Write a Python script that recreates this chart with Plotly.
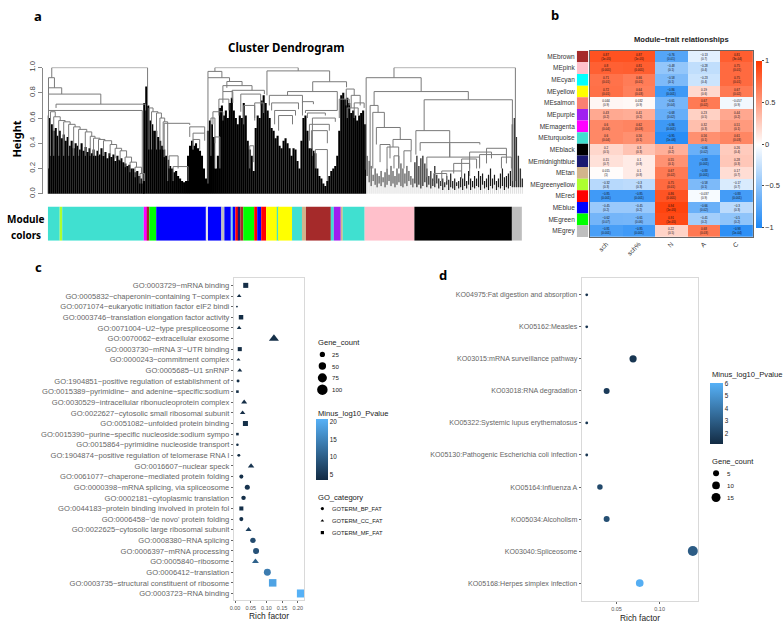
import plotly.graph_objects as go

W, H = 784, 626
fx = lambda x: x / W
fy = lambda y: 1 - y / H
FONT = "Liberation Sans"
GG_SCALE = [[0, "#132B43"], [1, "#56B1F7"]]
MINUS = "\u2212"

# ---------- panel a data ----------
MODULE_COLORS = ["#40E0D0", "#ADFF2F", "#40E0D0", "#FF00FF", "#A52A2A", "#00FF00", "#0000FF", "#E8E8E8", "#0000FF", "#BEBEBE",
                 "#0000FF", "#87CEEB", "#0000FF", "#FF0000", "#191970", "#A52A2A", "#00FF00", "#FF0000", "#0000FF", "#FF0000",
                 "#FFFF00", "#40E0D0", "#FFFF00", "#40E0D0", "#D2B48C", "#A52A2A", "#40E0D0", "#A020F0", "#D2B48C", "#40E0D0",
                 "#FFC0CB", "#000000", "#BEBEBE"]
MODULE_SIZES = [12, 2.5, 82, 3.5, 2, 7, 50.5, 1.5, 13.5, 3, 6.5, 2.5, 2, 3, 2, 3, 11, 3, 4, 5, 11, 1, 14, 10, 4, 25, 3, 7, 2, 22, 50, 98, 10]
MODULE_START = 44

SPIKE_A = [.62, .60, .55, .5, .52, .46, .5, .44, .47, .42, .45, .38, .42, .36, .40, .38, .35, .40, .34, .37, .33, .36, .32, .35, .3,
           .34, .31, .36, .3, .33, .28, .32, .29, .31, .26, .3, .27, .28, .25, .24, .22, .23, .2, .2, .17, .18, .14, .12, .1]
SPIKE_B = [.72, .85, .7, .58, .55, .5, .5, .45, .42, .38, .35, .3, .27, .22, .2, .17, .18, .14, .12, .1, .09, .1, .3, .38, .42, .38,
           .4, .36, .34, .3, .2, .12]
SPIKE_C = [.5, .58, .55, .45, .2, .3, .68, .7, .62, .66, .6, .72, .76, .66, .6, .55, .62, .6, .72, .62, .42, .35, .3, .18, .52, .62,
           .6, .74, .78, .72, .66, .6, .52, .5, .44, .46, .38, .36, .42, .44, .4, .36, .3, .36, .35, .26, .2, .42, .6, .62, .5, .36,
           .36, .34, .32, .2, .14, .12, .08, .06, .1, .14, .18, .2, .22, .3, .5, .78, .8, .75, .76, .72, .64, .66, .62, .58, .62,
           .64, .66, .55]
SPIKE_D = [.3, .26, .22, .15, .2, .16, .14, .18, .13, .17, .2, .15, .22, .18, .14, .2, .16, .24, .2, .16, .22, .18, .14, .12]
FLOOR_D = [.14, .09, .06, .1, .07, .05, .08, .06, .09, .05, .07, .1, .06, .08, .05, .07, .09, .06, .05, .08, .06, .1, .07, .05]
SPIKE_E = [.25, .3, .22, .28, .3, .24, .2, .14, .18, .12, .22, .15, .12, .1, .12, .09, .14, .11, .16, .1, .12, .09, .1, .13, .12, .16,
           .1, .18, .12, .1, .14, .12, .18, .14, .16, .1, .12, .15, .2, .12, .15, .1, .12, .16, .2, .13, .14, .16, .18]
FLOOR_E = [.08, .05, .07, .04, .06, .09, .05, .07, .04, .06, .05, .08, .04, .06, .03, .05, .07, .03, .05, .04, .03, .06, .04, .05, .03,
           .06, .04, .07, .03, .05, .04, .06, .05, .03, .07, .04, .05, .03, .06, .04, .07, .03, .05, .04, .06, .03, .05, .04, .06]
SPIKE_F = [.55, .6, .45, .3, .2, .12]
# start leaf, leaf step, tops, floors, colour, line width
SPIKE_GROUPS = [(44, 2, SPIKE_A, [-.01] * len(SPIKE_A), "#000000", 2.1), (141, 2, SPIKE_B, [-.02] * len(SPIKE_B), "#000000", 2.1),
                (205, 2, SPIKE_C, [-.02] * len(SPIKE_C), "#000000", 2.1), (365, 2, SPIKE_D, FLOOR_D, "#2a2a2a", 1),
                (413, 2, SPIKE_E, FLOOR_E, "#1a1a1a", 1.2), (511, 2, SPIKE_F, [.05] * len(SPIKE_F), "#333333", 1.4)]

STAIR_A_X = [46.7, 50, 55, 60, 65, 70, 75, 81.7, 86.7, 90, 95, 100, 106.7, 111.7, 116.7, 121.7, 126.7, 131.7, 136.7]
STAIR_A_H = [.65, .61, .58, .57, .55, .53, .51, .49, .455, .44, .43, .42, .39, .36, .34, .29, .25, .21, .16]
STAIR_B_X = [145.7, 148.3, 153.3, 156.7, 160]
STAIR_B_H = [.68, .65, .64, .60, .57]

# x left, x right, height, left leg bottom, right leg bottom
MERGES = [
    (48, 144.3, 1.0, .92, .70), (44.7, 50.7, .92, .8, .84), (44.7, 58, .84, .79, .79), (44.7, 97.3, .79, .65, .71),
    (52.3, 142.3, .71, .68, .66), (44.7, 139, .66, .2, .08),
    (161, 186.7, .558, .29, .545), (186.7, 201.7, .53, .45, .48), (190, 201.7, .48, .35, .42), (190, 196.7, .43, .35, .35),
    (170, 185, .215, .1, .1), (166, 175, .30, .2, .2),
    (212, 295.7, 1.0, .97, .974), (205, 219, .97, .92, .92), (205, 226.7, .92, .08, .89), (224, 239.3, .89, .84, .857),
    (220, 249.3, .857, .81, .82), (220, 230, .81, .72, .72), (229.3, 261.7, .82, .75, .79), (238, 258, .79, .65, .7),
    (216, 226, .75, .62, .66), (210, 220, .65, .55, .58), (241, 252, .70, .55, .6), (252, 261, .72, .58, .64),
    (208, 212, .6, .3, .4), (212, 217, .45, .2, .2), (247, 251, .38, .2, .25),
    (264.3, 327.3, .974, .78, .888), (310.3, 344.3, .888, .81, .844), (285, 335, .81, .78, .66), (266.7, 300, .78, .7, .72),
    (269, 296, .72, .66, .67), (272, 293, .66, .55, .62), (276, 290, .62, .5, .55), (300, 311, .73, .62, .71), (303, 335, .66, .64, .66),
    (305, 323, .64, .6, .62), (310, 333, .60, .3, .57), (309, 325, .50, .36, .4), (307, 327, .55, .42, .5), (313, 325, .35, .2, .1),
    (344, 352, .83, .7, .78), (349, 358, .78, .68, .7), (352, 362, .72, .6, .68), (337, 347, .75, .6, .7), (345, 356, .68, .6, .62),
    (392, 514, 1.0, .92, .1), (364, 419.3, .92, .19, .81), (372, 466.7, .81, .70, .745), (422.3, 511, .745, .5, .1),
    (414, 448, .5, .31, .4), (418.3, 478.3, .405, .34, .39), (425, 478, .29, .13, .21), (448, 448, .4, .29, .29),
    (368, 376, .70, .2, .645), (370.7, 382.3, .645, .2, .525), (374.3, 398.3, .525, .39, .43), (391, 409.3, .43, .37, .34),
    (385, 396.7, .37, .2, .2), (402, 409, .34, .2, .25), (378, 388, .39, .25, .28), (392, 397, .30, .2, .2),
    (432, 445, .16, .1, .1), (440, 460, .18, .1, .12), (452, 468, .24, .16, .14), (460, 475, .275, .18, .2), (478, 505, .31, .2, .24),
    (468, 490, .33, .2, .28), (485, 505, .36, .24, .3), (500, 510, .29, .2, .2),
]

# ---------- panel b data ----------
MODULES = ["MEbrown", "MEpink", "MEcyan", "MEyellow", "MEsalmon", "MEpurple", "MEmagenta", "MEturquoise", "MEblack", "MEmidnightblue",
           "MEtan", "MEgreenyellow", "MEred", "MEblue", "MEgreen", "MEgrey"]
TRAITS = ["sch", "sch%", "N", "A", "C"]
MODULE_SWATCH = ["#A52A2A", "#FFC0CB", "#00FFFF", "#FFFF00", "#FA8072", "#A020F0", "#FF00FF", "#40E0D0", "#000000", "#191970", "#D2B48C",
                 "#ADFF2F", "#FF0000", "#0000FF", "#00FF00", "#BEBEBE"]
CORR = [[.87, .87, -.76, -.13, .81], [.8, .81, -.48, -.28, .75], [.71, .66, -.58, -.23, .75], [.72, .64, -.86, .19, .67],
        [.044, .032, -.61, .67, -.057], [.43, .41, -.68, .23, .44], [.6, .62, -.86, .32, .51], [.6, .56, -.95, .56, .61],
        [.2, .3, .4, -.66, .26], [.15, .1, .55, -.83, .28], [.015, .1, .67, -.83, .17], [-.32, -.3, .75, -.58, -.17],
        [-.85, -.85, .86, -.037, -.83], [-.45, -.45, .94, -.66, -.3], [-.62, -.61, .91, -.41, -.5], [-.81, -.85, .22, .68, -.93]]
PVAL = [["1e-05", "1e-05", "0.01", "0.7", "3e-04"], ["0.001", "0.001", "0.1", "0.4", "0.01"], ["0.01", "0.01", "0.1", "0.4", "0.01"],
        ["0.01", "0.03", "0.001", "0.6", "0.02"], ["0.9", "0.9", "0.04", "0.02", "0.9"], ["0.2", "0.2", "0.02", "0.5", "0.2"],
        ["0.04", "0.03", "0.001", "0.3", "0.1"], ["0.04", "0.1", "1e-06", "0.1", "0.03"], ["0.5", "0.3", "0.2", "0.02", "0.4"],
        ["0.7", "0.8", "0.1", "0.001", "0.3"], ["1", "0.8", "0.02", "0.001", "0.7"], ["0.3", "0.3", "0.01", "0.1", "0.7"],
        ["0.001", "0.001", "0.001", "0.9", "0.001"], ["0.2", "0.2", "1e-05", "0.02", "0.3"], ["0.07", "0.06", "1e-05", "0.2", "0.2"],
        ["0.001", "0.001", "0.5", "0.03", "1e-04"]]

# ---------- panel c data ----------
GO_TERMS = ["GO:0003729~mRNA binding", "GO:0005832~chaperonin\u2212containing T\u2212complex", "GO:0071074~eukaryotic initiation factor eIF2 bindi",
            "GO:0003746~translation elongation factor activity", "GO:0071004~U2\u2212type prespliceosome", "GO:0070062~extracellular exosome",
            "GO:0003730~mRNA 3'\u2212UTR binding", "GO:0000243~commitment complex", "GO:0005685~U1 snRNP",
            "GO:1904851~positive regulation of establishment of", "GO:0015389~pyrimidine\u2212 and adenine\u2212specific:sodium",
            "GO:0030529~intracellular ribonucleoprotein complex", "GO:0022627~cytosolic small ribosomal subunit", "GO:0051082~unfolded protein binding",
            "GO:0015390~purine\u2212specific nucleoside:sodium sympo", "GO:0015864~pyrimidine nucleoside transport",
            "GO:1904874~positive regulation of telomerase RNA l", "GO:0016607~nuclear speck", "GO:0061077~chaperone\u2212mediated protein folding",
            "GO:0000398~mRNA splicing, via spliceosome", "GO:0002181~cytoplasmic translation", "GO:0044183~protein binding involved in protein fol",
            "GO:0006458~'de novo' protein folding", "GO:0022625~cytosolic large ribosomal subunit", "GO:0008380~RNA splicing",
            "GO:0006397~mRNA processing", "GO:0005840~ribosome", "GO:0006412~translation", "GO:0003735~structural constituent of ribosome",
            "GO:0003723~RNA binding"]
GO_RICH = [.034, .013, .006, .019, .013, .124, .015, .011, .015, .0095, .0075, .029, .024, .033, .0075, .0075, .012, .051, .020, .039,
           .027, .020, .020, .043, .057, .067, .065, .103, .120, .21]
GO_COUNT = [23, 15, 3, 18, 15, 69, 15, 11, 17, 8, 6, 25, 21, 23, 6, 6, 8, 29, 15, 23, 18, 15, 15, 25, 27, 33, 33, 44, 51, 58]
GO_LOGP = [3.8, 3.6, 3.4, 3.6, 3.7, 3.9, 3.6, 3.6, 3.7, 3.6, 3.6, 3.8, 3.8, 4, 3.5, 3.5, 3.6, 4.6, 4, 4.6, 4, 4, 4, 6, 7.5, 8.5, 10.5, 14, 19, 20.8]
GO_CAT = ["MF", "CC", "BP", "MF", "CC", "CC", "MF", "CC", "CC", "BP", "MF", "CC", "CC", "MF", "MF", "BP", "BP", "CC", "BP", "BP", "BP",
          "MF", "BP", "CC", "BP", "BP", "CC", "BP", "MF", "MF"]
CAT_SYMBOL = {"BP": "circle", "CC": "triangle-up", "MF": "square"}
CAT_NAMES = ["GOTERM_BP_FAT", "GOTERM_CC_FAT", "GOTERM_MF_FAT"]
COUNT_BREAKS_C = [25, 50, 75, 100]

# ---------- panel d data ----------
KO_TERMS = ["KO04975:Fat digestion and absorption", "KO05162:Measles", "KO03015:mRNA surveillance pathway", "KO03018:RNA degradation",
            "KO05322:Systemic lupus erythematosus", "KO05130:Pathogenic Escherichia coli infection", "KO05164:Influenza A", "KO05034:Alcoholism",
            "KO03040:Spliceosome", "KO05168:Herpes simplex infection"]
KO_RICH = [.0154, .0154, .0692, .0385, .0154, .0154, .0307, .0385, .1385, .0769]
KO_COUNT = [2, 2, 9, 5, 2, 2, 4, 5, 18, 10]
KO_LOGP = [1.5, 1.5, 1.6, 1.8, 1.6, 1.6, 2.3, 2.5, 3.0, 6.0]
COUNT_BREAKS_D = [5, 10, 15]

def size_c(c):
    return 1.05 * c ** 0.5

def size_d(c):
    table = {2: 2.8, 4: 5.5, 5: 6, 9: 7.2, 10: 7.7, 15: 9, 18: 10}
    return table[c]

fig = go.Figure()

# ---- dendrogram ----
for start, step, tops, floors, col, lw in SPIKE_GROUPS:
    hx, hy = [], []
    sx, sy = [], []
    for i, (top, floor) in enumerate(zip(tops, floors)):
        xi = start + step * i
        hx += [xi, xi, None]
        hy += [floor, -.08, None]
        sx += [xi, xi, None]
        sy += [floor, top, None]
    fig.add_trace(go.Scatter(x=hx, y=hy, mode="lines", line=dict(color="#dddddd", width=1), cliponaxis=False, xaxis="x", yaxis="y", hoverinfo="skip", showlegend=False))
    fig.add_trace(go.Scatter(x=sx, y=sy, mode="lines", line=dict(color=col, width=lw), cliponaxis=False, xaxis="x", yaxis="y", hoverinfo="skip", showlegend=False))

mx, my = [], []
def add_merge(xl, xr, h, hl, hr):
    mx.extend([xl, xl, xr, xr, None])
    my.extend([hl, h, h, hr, None])
for m in MERGES:
    add_merge(*m)
for X, Y, low in ((STAIR_A_X, STAIR_A_H, .3), (STAIR_B_X, STAIR_B_H, .35)):
    for i in range(len(X)):
        nx = X[i + 1] if i + 1 < len(X) else X[i] + 3
        ny = Y[i + 1] if i + 1 < len(Y) else .1
        add_merge(X[i], nx + 1.5, Y[i], min(low, Y[i] - .08), ny)
fig.add_trace(go.Scatter(x=mx, y=my, mode="lines", line=dict(color="#7a7a7a", width=1), cliponaxis=False, xaxis="x", yaxis="y", hoverinfo="skip", showlegend=False))

# ---- module strip ----
bases, pos = [], MODULE_START
for s in MODULE_SIZES:
    bases.append(pos)
    pos += s
fig.add_trace(go.Bar(x=MODULE_SIZES, base=bases, y=[0] * len(MODULE_SIZES), orientation="h", width=1,
                     marker=dict(color=MODULE_COLORS, line=dict(width=0)), xaxis="x2", yaxis="y2", hoverinfo="skip", showlegend=False))

# ---- heatmap ----
HM_TEXT = [[f"{str(v).replace('-', MINUS)}<br>({p})" for v, p in zip(r, q)] for r, q in zip(CORR, PVAL)]
fig.add_trace(go.Heatmap(z=CORR, x=TRAITS, y=MODULES, zmin=-1, zmax=1, text=HM_TEXT, texttemplate="%{text}",
                         textfont=dict(size=3, color="#111111", family=FONT), xaxis="x3", yaxis="y3", hoverinfo="skip",
                         colorscale=[[0, "#1E88F5"], [.5, "#FFFFFF"], [1, "#FF3800"]],
                         colorbar=dict(x=fx(756), xanchor="left", xpad=0, y=fy(139.5), yanchor="middle", ypad=0, lenmode="pixels", len=167,
                                       thickness=6, outlinewidth=0, ticks="outside", ticklen=2, tickcolor="#444444",
                                       tickvals=[-1, -.5, 0, .5, 1], ticktext=[MINUS + "1", MINUS + "0.5", "0", "0.5", "1"],
                                       tickfont=dict(size=7.5, color="#333333", family=FONT))))
fig.add_trace(go.Bar(x=[1] * len(MODULES), y=MODULES, orientation="h", width=1, marker=dict(color=MODULE_SWATCH, line=dict(width=0)),
                     xaxis="x4", yaxis="y4", hoverinfo="skip", showlegend=False))

# ---- GO bubble ----
fig.add_trace(go.Scatter(x=GO_RICH, y=GO_TERMS, mode="markers", xaxis="x5", yaxis="y5", hoverinfo="skip", showlegend=False, cliponaxis=False,
                         marker=dict(symbol=[CAT_SYMBOL[c] for c in GO_CAT], size=[size_c(c) for c in GO_COUNT], color=GO_LOGP, opacity=1,
                                     colorscale=GG_SCALE, cmin=3.37, cmax=20.86, line=dict(width=0),
                                     colorbar=dict(x=fx(314), xanchor="left", xpad=0, y=fy(450.4), yanchor="middle", ypad=0, lenmode="pixels", len=60.7,
                                                   thickness=12, outlinewidth=0, ticks="", tickvals=[5, 10, 15, 20],
                                                   tickfont=dict(size=6.3, color="#222222", family=FONT)))))

# ---- KO bubble ----
fig.add_trace(go.Scatter(x=KO_RICH, y=KO_TERMS, mode="markers", xaxis="x6", yaxis="y6", hoverinfo="skip", showlegend=False, cliponaxis=False,
                         marker=dict(size=[size_d(c) for c in KO_COUNT], color=KO_LOGP, colorscale=GG_SCALE, cmin=1.2, cmax=6.1, line=dict(width=0), opacity=1,
                                     colorbar=dict(x=fx(709.3), xanchor="left", xpad=0, y=fy(413.3), yanchor="middle", ypad=0, lenmode="pixels", len=61.3,
                                                   thickness=12.5, outlinewidth=0, ticks="", tickvals=[2, 3, 4, 5, 6],
                                                   tickfont=dict(size=6.3, color="#222222", family=FONT)))))

# ---- legend keys on a page-wide axis ----
LEG_Y_C = [353.7, 365.5, 377.5, 389.5]
fig.add_trace(go.Scatter(x=[320] * 4, y=LEG_Y_C, mode="markers", xaxis="x7", yaxis="y7", hoverinfo="skip", showlegend=False,
                         marker=dict(color="#000000", opacity=1, size=[size_c(c) for c in COUNT_BREAKS_C], line=dict(width=0))))
LEG_Y_CAT = [510.5, 523, 535]
fig.add_trace(go.Scatter(x=[320] * 3, y=LEG_Y_CAT, mode="markers", xaxis="x7", yaxis="y7", hoverinfo="skip", showlegend=False,
                         marker=dict(color="#000000", opacity=1, size=3.2, symbol=["circle", "triangle-up", "square"], line=dict(width=0))))
LEG_Y_D = [474.7, 487, 499.3]
fig.add_trace(go.Scatter(x=[715.7] * 3, y=LEG_Y_D, mode="markers", xaxis="x7", yaxis="y7", hoverinfo="skip", showlegend=False,
                         marker=dict(color="#000000", opacity=1, size=[size_d(c) for c in COUNT_BREAKS_D], line=dict(width=0))))

ann = []
def text(x, y, s, size, color="#000000", family=FONT, anchor="left", bold=False, angle=0):
    ann.append(dict(xref="paper", yref="paper", x=fx(x), y=fy(y), text=f"<b>{s}</b>" if bold else s, showarrow=False, xanchor=anchor, yanchor="middle",
                    textangle=angle, font=dict(size=size, color=color, family=family)))

HEAD = "Noto Sans"
text(34.5, 9, "a", 13, family=HEAD, anchor="center", bold=True)
text(554, 8, "b", 13, family=HEAD, anchor="center", bold=True)
text(35, 265, "c", 13, family=HEAD, anchor="center", bold=True)
text(441, 273, "d", 13, family=HEAD, anchor="center", bold=True)
text(283, 41, "Cluster Dendrogram", 11.5, family=HEAD, anchor="center", bold=True)
text(13, 134, "Height", 11, family=HEAD, anchor="center", bold=True, angle=-90)
text(22, 216, "Module", 10, family=HEAD, anchor="center", bold=True)
text(22, 232, "colors", 10, family=HEAD, anchor="center", bold=True)
text(681, 33, "Module\u2212trait relationships", 7.6, anchor="center", bold=True, color="#222222")
text(266, 620, "Rich factor", 8.4, anchor="center", color="#222222")
text(639, 621.5, "Rich factor", 8.4, anchor="center", color="#222222")
text(314, 341, "Gene_count", 7.6, color="#222222")
for y, c in zip(LEG_Y_C, COUNT_BREAKS_C):
    text(328, y, str(c), 6.1, color="#222222")
text(314, 414, "Minus_log10_Pvalue", 7.6, color="#222222")
text(314, 499, "GO_category", 7.6, color="#222222")
for y, c in zip(LEG_Y_CAT, CAT_NAMES):
    text(328, y, c, 5.8, color="#222222")
text(709.7, 374.5, "Minus_log10_Pvalue", 7.6, color="#222222")
text(709.7, 463, "Gene_count", 7.6, color="#222222")
for y, c in zip(LEG_Y_D, COUNT_BREAKS_D):
    text(725, y, str(c), 6.1, color="#222222")

PANEL = dict(showline=True, mirror=True, linecolor="#d9d9d9", linewidth=1, showgrid=False, zeroline=False)
TICK = dict(ticks="outside", ticklen=2, tickcolor="#666666", tickwidth=1)

fig.update_layout(
    width=W, height=H, margin=dict(l=0, r=0, t=0, b=0), paper_bgcolor="#ffffff", plot_bgcolor="rgba(0,0,0,0)", showlegend=False, barmode="overlay", annotations=ann,
    font=dict(family=FONT),
    xaxis=dict(domain=[fx(44), fx(522)], range=[44, 522], visible=False),
    yaxis=dict(domain=[fy(190), fy(61.7)], range=[0, 1], anchor="free", position=fx(38), side="left", showline=True, linecolor="#888888", linewidth=1,
               ticks="outside", ticklen=4, tickcolor="#888888", tickvals=[0, .2, .4, .6, .8, 1], ticktext=["0.0", "0.2", "0.4", "0.6", "0.8", "1.0"],
               tickangle=-90, tickfont=dict(size=7.8, color="#444444", family=FONT), showgrid=False, zeroline=False),
    xaxis2=dict(domain=[fx(44), fx(522)], range=[44, 522], visible=False, anchor="y2"),
    yaxis2=dict(domain=[fy(238), fy(203)], range=[-.5, .5], visible=False, anchor="x2"),
    xaxis3=dict(domain=[fx(589), fx(752.7)], anchor="y3", categoryorder="array", categoryarray=TRAITS, tickangle=-45, ticks="",
                tickfont=dict(size=6.5, color="#333333", family=FONT), showline=True, mirror=True, linecolor="#666666", linewidth=1),
    yaxis3=dict(domain=[fy(234), fy(44.5)], anchor="x3", categoryorder="array", categoryarray=MODULES, range=[15.5, -.5], showticklabels=False, ticks="",
                showline=True, mirror=True, linecolor="#666666", linewidth=1),
    xaxis4=dict(domain=[fx(575.7), fx(587.3)], anchor="y4", range=[0, 1], visible=False),
    yaxis4=dict(domain=[fy(234), fy(44.5)], anchor="x4", categoryorder="array", categoryarray=MODULES, range=[15.5, -.5], ticks="", ticklabelstandoff=1,
                tickfont=dict(size=6.5, color="#333333", family=FONT), showline=False, showgrid=False),
    xaxis5=dict(domain=[fx(231), fx(302)], anchor="y5", range=[-.004, .2214], tickvals=[0, .05, .1, .15, .2], ticktext=["0.00", "0.05", "0.10", "0.15", "0.20"],
                tickfont=dict(size=5.5, color="#555555", family=FONT), **PANEL, **TICK),
    yaxis5=dict(domain=[fy(604), fy(276)], anchor="x5", type="category", categoryorder="array", categoryarray=GO_TERMS, range=[29.65, -.68], tickmode="array",
                tickvals=GO_TERMS, tickfont=dict(size=7.6, color="#666666", family=FONT), **PANEL, **TICK),
    xaxis6=dict(domain=[fx(580.7), fx(697.7)], anchor="y6", range=[.0096, .1447], tickvals=[.05, .1], ticktext=["0.05", "0.10"],
                tickfont=dict(size=5.5, color="#555555", family=FONT), **PANEL, **TICK),
    yaxis6=dict(domain=[fy(605), fy(276)], anchor="x6", type="category", categoryorder="array", categoryarray=KO_TERMS, range=[9.57, -.52], tickmode="array",
                tickvals=KO_TERMS, tickfont=dict(size=7.1, color="#666666", family=FONT), **PANEL, **TICK),
    xaxis7=dict(domain=[0, 1], range=[0, W], visible=False, anchor="y7"),
    yaxis7=dict(domain=[0, 1], range=[H, 0], visible=False, anchor="x7"),
)

fig.write_html("out.html", config=dict(displayModeBar=False),
               post_script="document.body.style.margin='0';document.body.style.overflow='hidden';")
